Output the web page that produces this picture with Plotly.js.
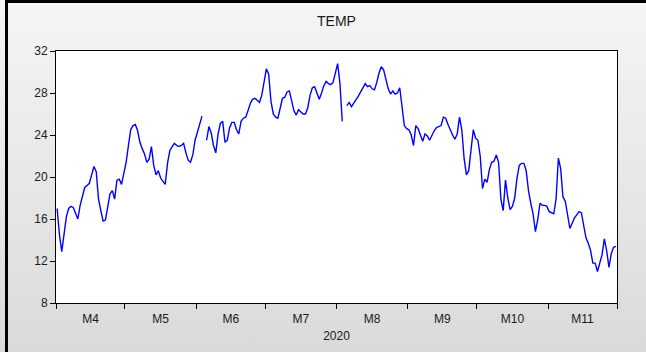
<!DOCTYPE html>
<html>
<head>
<meta charset="utf-8">
<script src="https://cdn.plot.ly/plotly-3.0.1.min.js"></script>
<style>
  html, body { margin:0; padding:0; width:646px; height:352px; overflow:hidden; }
  body { background: linear-gradient(#f5f5f5, #dadada); }
  #frame { position:absolute; left:5px; top:0; width:641px; height:352px; border-left:3px solid #000; border-top:3px solid #000; box-sizing:border-box; }
  #chart { position:absolute; left:0; top:0; width:646px; height:352px; }
</style>
</head>
<body>
<div id="frame"></div>
<div id="chart"></div>
<script>
// Daily TEMP readings, 2020 (null = missing day)
const startDate = '2020-04-01';
const apr = [17.0,14.5,12.9,14.5,16.2,17.0,17.2,17.1,16.6,16.0,17.3,18.3,19.0,19.2,19.4,20.2,21.0,20.5,17.9,16.8,15.8,15.9,17.2,18.4,18.7,17.9,19.7,19.8,19.3,20.2];
const may = [21.4,23.0,24.5,24.9,25.0,24.4,23.3,22.7,22.2,21.4,21.7,22.9,21.1,20.2,20.6,19.9,19.6,19.3,21.3,22.5,22.9,23.2,23.0,22.9,23.0,23.2,22.3,21.6,21.4,22.1,23.5];
const jun = [24.2,25.0,25.8,null,23.5,24.8,24.2,23.0,22.3,24.1,25.1,25.3,23.3,23.5,24.7,25.2,25.2,24.5,24.1,25.3,25.6,25.7,26.3,27.0,27.4,27.5,27.3,27.1,27.8,29.0];
const jul = [30.3,29.8,27.2,26.0,25.7,25.6,26.7,27.5,27.6,28.1,28.2,27.3,26.3,25.9,26.4,26.2,26.0,26.0,26.6,27.8,28.5,28.6,27.9,27.4,28.0,28.7,29.1,28.9,28.8,29.0,29.9];
const aug = [30.8,28.9,25.3,null,26.8,27.1,26.7,27.0,27.4,27.7,28.1,28.5,28.9,28.6,28.7,28.4,28.3,29.0,29.9,30.5,30.2,29.3,28.4,27.9,28.2,27.9,28.0,28.5,26.8,24.9,24.6];
const sep = [24.5,24.0,23.0,24.9,24.6,24.0,23.4,24.1,23.9,23.5,24.0,24.4,24.7,24.8,24.9,25.7,25.6,25.0,24.4,24.0,23.6,24.1,25.7,24.5,21.8,20.2,20.6,22.3,24.5,23.7];
const oct = [23.5,22.0,18.9,19.8,19.5,20.7,21.4,21.5,22.1,21.4,17.9,16.8,19.7,18.0,16.9,17.2,18.0,19.9,21.1,21.3,21.3,20.6,18.7,17.5,16.5,14.8,15.9,17.5,17.3,17.3,17.2];
const nov = [16.7,16.6,16.5,17.9,21.8,20.8,18.1,17.7,16.4,15.1,15.6,16.1,16.4,16.7,16.6,15.3,14.2,13.7,13.0,11.8,11.8,11.0,11.9,12.6,14.1,13.0,11.4,12.7,13.3,13.4];
const yTicks = [8,12,16,20,24,28,32];

const temp = [].concat(apr, may, jun, jul, aug, sep, oct, nov);
const t0 = new Date(startDate + 'T12:00:00Z').getTime();
const dates = temp.map((_, i) => {
  const d = new Date(t0 + i * 86400000);
  return d.toISOString().slice(0, 10) + ' 12:00';
});

const trace = {
  x: dates, y: temp, type: 'scatter', mode: 'lines',
  line: {color: '#0000ff', width: 1.4},
  connectgaps: false, hoverinfo: 'skip'
};

const font = {family: 'Liberation Sans, Arial, sans-serif', size: 12, color: '#1a1a1a'};

const layout = {
  width: 646, height: 352,
  margin: {l: 56, r: 29, t: 51, b: 49},
  paper_bgcolor: 'rgba(0,0,0,0)',
  plot_bgcolor: '#ffffff',
  showlegend: false,
  font: font,
  title: {text: 'TEMP', font: {family: font.family, size: 14, color: '#1a1a1a'},
          x: 0.5, xref: 'paper', y: 1 - 21/352, yref: 'container', yanchor: 'middle'},
  xaxis: {
    type: 'date', range: ['2020-04-01', '2020-12-01'],
    tick0: '2020-04-01', dtick: 'M1', tickformat: 'M%-m', ticklabelmode: 'period',
    ticks: 'outside', ticklen: 5, tickwidth: 1, tickcolor: '#000',
    showline: true, linecolor: '#000', linewidth: 1, mirror: true,
    showgrid: false, zeroline: false,
    tickfont: font,
    title: {text: '2020', font: font, standoff: 6}
  },
  yaxis: {
    range: [8, 32], tickvals: yTicks, ticktext: yTicks.map(String),
    ticks: 'outside', ticklen: 5, tickwidth: 1, tickcolor: '#000',
    showline: true, linecolor: '#000', linewidth: 1, mirror: true,
    showgrid: false, zeroline: false,
    tickfont: font
  }
};

Plotly.newPlot('chart', [trace], layout, {staticPlot: true, displayModeBar: false});
</script>
</body>
</html>
